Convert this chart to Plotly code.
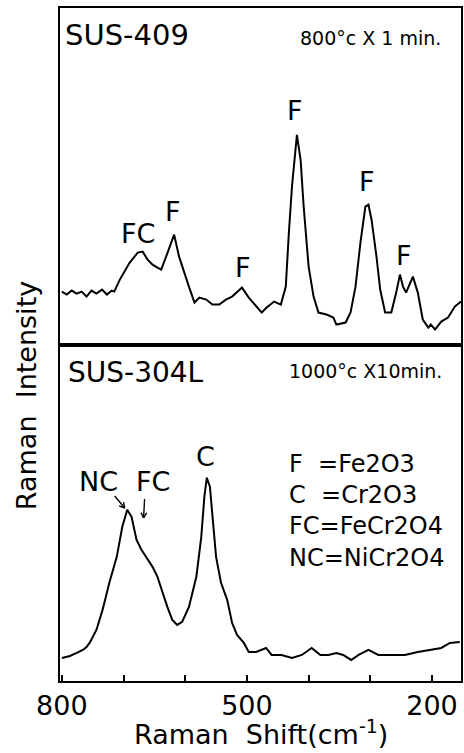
import math
import plotly.graph_objects as go
from plotly.subplots import make_subplots

# ---- data ----
top_shift = [800, 792, 784, 776, 768, 760, 752, 744, 735, 727, 719, 715, 706, 690, 677, 669, 661, 653,
             645, 639, 631, 618, 610, 602, 594, 585, 577, 566, 556, 545, 534, 524, 508, 497, 485, 476,
             468, 456, 445, 437, 432, 427, 419, 413, 408, 400, 392, 384, 371, 360, 355, 340, 332, 324,
             316, 308, 303, 298, 290, 284, 276, 266, 258, 252, 247, 242, 231, 223, 215, 206, 202, 195,
             185, 174, 163, 153]
top_intensity = [53, 50, 54, 51, 53, 48, 54, 51, 55, 50, 54, 53, 65, 82, 92, 93, 85, 80,
                 77, 75, 88, 110, 88, 72, 58, 42, 47, 45, 40, 40, 45, 48, 57, 47, 38, 32,
                 37, 43, 40, 58, 112, 158, 210, 185, 138, 78, 48, 32, 30, 27, 20, 22, 32, 58,
                 102, 138, 140, 125, 88, 55, 32, 32, 52, 70, 58, 52, 68, 52, 25, 17, 20, 15,
                 23, 27, 38, 43]

bottom_shift = [800, 787, 776, 766, 760, 755, 744, 734, 723, 711, 702, 694, 687, 679, 671, 663, 653,
                645, 637, 629, 621, 613, 605, 594, 582, 574, 569, 565, 560, 556, 550, 542, 532, 524,
                516, 505, 497, 485, 469, 460, 444, 427, 411, 395, 381, 368, 355, 344, 331, 319, 303,
                287, 266, 244, 223, 202, 185, 171, 155]
bottom_intensity = [23, 25, 28, 31, 34, 38, 51, 71, 98, 124, 154, 171, 164, 141, 131, 124, 114,
                    104, 88, 74, 61, 56, 59, 74, 104, 144, 184, 203, 194, 164, 124, 98, 81, 58,
                    46, 38, 29, 29, 33, 26, 26, 23, 26, 33, 26, 26, 28, 26, 21, 26, 31,
                    26, 26, 26, 29, 31, 33, 38, 39]

label_ticks = [800, 500, 200]
label_text = ["800", "500", "200"]
unlabelled_ticks = [700, 600, 400, 300]

legend_lines = ["F  =Fe2O3", "C  =Cr2O3", "FC=FeCr2O4", "NC=NiCr2O4"]

# ---- figure ----
W, H = 464, 753
L, R, T, B = 60, 1, 8, 72
FONT = "DejaVu Sans"

def px(x):
    return (x - L) / (W - L - R)

def py(y):
    return (H - B - y) / (H - T - B)

fig = make_subplots(rows=2, cols=1, shared_xaxes=True, vertical_spacing=0)
fig.add_trace(go.Scatter(x=top_shift, y=top_intensity, mode="lines",
                         line=dict(color="black", width=2), showlegend=False,
                         hoverinfo="skip"), row=1, col=1)
fig.add_trace(go.Scatter(x=bottom_shift, y=bottom_intensity, mode="lines",
                         line=dict(color="black", width=2), showlegend=False,
                         hoverinfo="skip"), row=2, col=1)

axis_common = dict(showline=True, linecolor="black", linewidth=2, mirror=True,
                   showgrid=False, zeroline=False)
fig.update_xaxes(range=[803, 153], **axis_common)
fig.update_xaxes(showticklabels=False, ticks="", row=1, col=1)
fig.update_xaxes(tickvals=label_ticks, ticktext=label_text, ticks="inside", ticklen=6,
                 tickwidth=2, tickcolor="black",
                 minor=dict(tickvals=unlabelled_ticks, ticks="inside", ticklen=6,
                            tickwidth=2, tickcolor="black", showgrid=False),
                 tickfont=dict(family=FONT, size=27, color="black"), row=2, col=1)
fig.update_yaxes(showticklabels=False, ticks="", **axis_common)
fig.update_yaxes(range=[0, 337], row=1, col=1)
fig.update_yaxes(range=[0, 336], row=2, col=1)

ann = []
def text(x, y, s, size, anchor="center", yanchor="middle"):
    ann.append(dict(x=px(x), y=py(y), xref="paper", yref="paper", text=s, showarrow=False,
                    xanchor=anchor, yanchor=yanchor, align="left",
                    font=dict(family=FONT, size=size, color="black")))

text(63, 35, "SUS-409", 29, "left")
text(445, 38, "800°c X 1 min.", 19, "right")
text(138, 233, "FC", 27)
text(174, 211, "F", 27)
text(244, 267, "F", 27)
text(296, 110, "F", 27)
text(369, 182, "F", 27)
text(406, 255, "F", 27)

text(66, 372, "SUS-304L", 28, "left")
text(446, 371, "1000°c X10min.", 19, "right")
text(99, 482, "NC", 27)
text(153, 482, "FC", 27)
text(206, 456, "C", 27)
text(288, 511, "<br>".join(legend_lines), 24, "left")

text(262, 752, "Raman  Shift(cm<sup>-1</sup>)", 27, yanchor="bottom")
ann.append(dict(x=px(27), y=py(396), xref="paper", yref="paper", text="Raman  Intensity",
                showarrow=False, textangle=-90, xanchor="center", yanchor="middle",
                font=dict(family=FONT, size=27, color="black")))

# small pointer arrows (drawn as line shapes)
shapes = []
def seg(xa, ya, xb, yb):
    shapes.append(dict(type="line", xref="paper", yref="paper",
                       x0=px(xa), y0=py(ya), x1=px(xb), y1=py(yb),
                       line=dict(color="black", width=1.4)))

for (x0, y0, x1, y1) in [(115, 496, 125, 508), (145, 499, 144, 518)]:
    seg(x0, y0, x1, y1)
    ang = math.atan2(y0 - y1, x0 - x1)
    for d in (0.5, -0.5):
        seg(x1, y1, x1 + 6 * math.cos(ang + d), y1 + 6 * math.sin(ang + d))

fig.update_layout(width=W, height=H, margin=dict(l=L, r=R, t=T, b=B),
                  paper_bgcolor="white", plot_bgcolor="white", annotations=ann,
                  shapes=shapes, hovermode=False)
fig.write_html("out.html", config={"displayModeBar": False},
               post_script="document.body.style.margin='0';document.body.style.overflow='hidden';")
